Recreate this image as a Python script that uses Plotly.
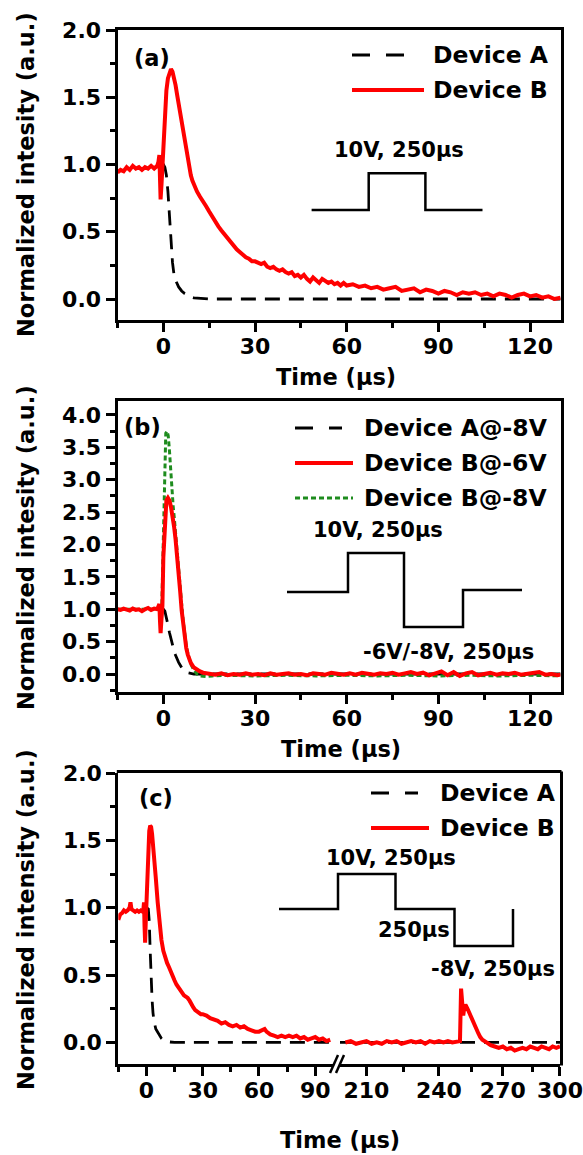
import math
import plotly.graph_objects as go

W, H = 583, 1155
FONT = "DejaVu Sans"

# ---------------- data ----------------
# Panel (a)
a_names = ["Device A", "Device B"]
a_A_time = [-0.5, 0, 0.5, 1, 1.5, 2, 2.5, 3, 3.5, 4, 5, 6, 7, 8, 9, 10, 12, 15, 130]
a_A_int = [1.0, 1.0, 0.98, 0.92, 0.80, 0.60, 0.40, 0.27, 0.18, 0.14, 0.09, 0.06, 0.04, 0.025,
           0.015, 0.008, 0.003, 0.0, 0.0]
a_B_time = [-15, -14, -13, -12, -11, -10, -9, -8, -7, -6, -5, -4, -3, -2,
            -1.6, -1.3, -1.1, -0.9, -0.6, -0.3,
            0, 0.5, 1, 1.5, 2, 2.5, 3, 3.5, 4, 4.5, 5, 5.5, 6, 6.5, 7, 7.5, 8, 8.5, 9, 9.5, 10,
            11, 12, 13, 14, 15, 16, 17, 18, 19, 20, 21, 22, 23, 24, 25, 26, 27, 28, 29, 30,
            31, 32, 33, 34, 35, 36, 37, 38, 39, 40, 41, 42, 43, 44, 45, 46, 47, 48, 49, 50,
            51, 52, 53, 54, 55, 56, 57, 58, 59, 60,
            62, 64, 66, 68, 70, 72, 74, 76, 78, 80, 82, 84, 86, 88, 90, 92, 94, 96, 98, 100,
            102, 104, 106, 108, 110, 112, 114, 116, 118, 120, 122, 124, 126, 128, 130]
a_B_int = [0.94, 0.96, 0.95, 0.98, 0.96, 0.99, 0.97, 0.98, 0.96, 0.98, 0.97, 0.99, 0.97, 0.99,
           1.02, 1.07, 0.90, 0.74, 0.85, 1.00,
           1.15, 1.38, 1.55, 1.64, 1.69, 1.71, 1.69, 1.65, 1.59, 1.52, 1.45, 1.38, 1.31, 1.24,
           1.17, 1.10, 1.03, 0.97, 0.92, 0.88, 0.85,
           0.80, 0.76, 0.73, 0.69, 0.65, 0.61, 0.58, 0.54, 0.51, 0.48,
           0.45, 0.43, 0.40, 0.37, 0.35, 0.33, 0.31, 0.30, 0.28, 0.28,
           0.27, 0.26, 0.27, 0.24, 0.23, 0.24, 0.22, 0.21, 0.22, 0.20,
           0.19, 0.20, 0.17, 0.18, 0.16, 0.18, 0.15, 0.13, 0.16, 0.14,
           0.12, 0.15, 0.13, 0.12, 0.13, 0.11, 0.12, 0.10, 0.12, 0.10,
           0.11, 0.09, 0.10, 0.08, 0.09, 0.07, 0.08, 0.09, 0.06, 0.07, 0.08, 0.05, 0.07, 0.06,
           0.04, 0.06, 0.05, 0.03, 0.05, 0.04, 0.05, 0.03, 0.04, 0.02, 0.04, 0.03, 0.01, 0.03,
           0.04, 0.02, 0.03, 0.01, 0.02, 0.00, 0.01]

# Panel (b)
b_names = ["Device A@-8V", "Device B@-6V", "Device B@-8V"]
b_A_time = [-0.5, 0, 0.5, 1, 1.5, 2, 2.5, 3, 3.5, 4, 5, 6, 7, 8, 9, 10, 130]
b_A_int = [1.0, 1.0, 0.97, 0.88, 0.76, 0.64, 0.53, 0.44, 0.36, 0.29, 0.18, 0.10, 0.05,
           0.02, 0.01, 0.0, 0.0]
b_B6_time = [-15, -14, -13, -12, -11, -10, -9, -8, -7, -6, -5, -4, -3, -2,
             -1.6, -1.3, -1.1, -0.9, -0.6, -0.3,
             0, 0.5, 1, 1.5, 2, 2.5, 3, 3.5, 4, 4.5, 5, 5.5, 6, 6.5, 7, 7.5, 8,
             9, 10, 11, 12, 13,
             15, 17, 19, 21, 23, 25, 27, 29, 31, 33, 35, 37, 39, 41, 43, 45, 47, 49, 51, 53,
             55, 57, 59, 61, 63, 65, 67, 69, 71, 73, 75, 77, 79, 81, 83, 85, 87, 89, 91, 93,
             95, 97, 99, 101, 103, 105, 107, 109, 111, 113, 115, 117, 119, 121, 123, 125, 127,
             129, 130]
b_B6_int = [1.00, 0.99, 1.01, 1.00, 0.98, 1.01, 0.99, 1.00, 0.97, 1.00, 1.02, 0.99, 1.01, 1.00,
            1.03, 1.08, 0.82, 0.63, 0.85, 1.05,
            1.80, 2.45, 2.68, 2.72, 2.68, 2.58, 2.45, 2.28, 2.08, 1.85, 1.58, 1.28, 0.98, 0.74,
            0.54, 0.40, 0.30,
            0.17, 0.10, 0.06, 0.04, 0.02,
            0.00, -0.01, 0.01, -0.02, 0.00, -0.01, 0.01, -0.01, 0.00, -0.02,
            0.01, -0.01, 0.00, 0.01, -0.01, 0.00, -0.02, 0.01, 0.00, -0.01,
            0.02, 0.00, -0.01, 0.01, -0.01, 0.02, 0.00, -0.01, 0.01, 0.00,
            0.02, -0.01, 0.01, 0.03, 0.00, 0.02, -0.02, 0.01, 0.04, -0.02,
            0.03, -0.03, 0.01, 0.03, -0.02, 0.00, 0.02, -0.01, 0.01, 0.00,
            0.02, -0.01, 0.00, 0.01, 0.03, -0.01, 0.00, -0.02, -0.01]
b_B8_time = [-15, -5, -1, -0.5, 0, 0.4, 0.8, 1.2, 1.6, 2.0, 2.4, 2.8, 3.2, 3.6, 4,
             4.5, 5, 5.5, 6, 6.5, 7, 7.5, 8, 9, 10, 11, 12, 14, 16, 20,
             30, 40, 50, 60, 70, 80, 90, 100, 110, 120, 130]
b_B8_int = [1.0, 1.0, 1.0, 1.05, 2.3, 3.3, 3.72, 3.75, 3.68, 3.45, 3.1, 2.8, 2.6, 2.4, 2.2,
            1.95, 1.68, 1.38, 1.08, 0.82, 0.60, 0.44, 0.32, 0.15, 0.06, 0.0, -0.03, -0.04,
            -0.03, -0.02,
            -0.03, -0.02, -0.03, -0.02, -0.03, -0.02, -0.03, -0.02, -0.03, -0.02, -0.03]

# Panel (c) -- broken time axis: early part (linear) and late part (log)
c_names = ["Device A", "Device B"]
c_A_time_early = [-0.5, 0, 1, 1.5, 2, 2.5, 3, 3.5, 4, 5, 6, 7, 8, 9, 10, 12, 15, 100]
c_A_int_early = [1.0, 1.0, 0.99, 0.90, 0.68, 0.47, 0.32, 0.22, 0.16, 0.10, 0.075, 0.05,
                 0.03, 0.017, 0.01, 0.004, 0.0, 0.0]
c_A_time_late = [200, 300]
c_A_int_late = [0.0, 0.0]
c_B_time_early = [-15, -14, -13, -12, -11, -10, -9, -8.5, -8, -7, -6, -5, -4, -3, -2,
                  -1.6, -1.3, -1.0, -0.7, -0.4,
                  0, 0.5, 1, 1.5, 2, 2.5, 3, 3.5, 4, 5, 6, 7, 8, 9, 10,
                  11, 12, 13, 14, 15, 16, 17, 18, 19, 20, 21, 22, 23, 24, 25, 26, 27, 28, 29, 30,
                  32, 34, 36, 38, 40, 42, 44, 46, 48, 50, 52, 54, 56, 58, 60, 62, 63, 64, 66, 68,
                  70, 72, 74, 76, 78, 80, 82, 84, 86, 88, 90, 92, 94, 96, 98]
c_B_int_early = [0.91, 0.95, 0.96, 0.98, 0.97, 0.98, 1.00, 1.04, 0.99, 0.98, 0.97, 0.98, 0.97,
                 0.98, 0.97,
                 0.99, 1.04, 0.86, 0.74, 0.88,
                 1.05, 1.30, 1.48, 1.57, 1.61, 1.60, 1.55, 1.48, 1.40, 1.22, 1.04, 0.88, 0.76,
                 0.68, 0.63,
                 0.59, 0.56, 0.52, 0.48, 0.46, 0.43, 0.41, 0.38, 0.36, 0.35,
                 0.34, 0.33, 0.31, 0.28, 0.26, 0.24, 0.23, 0.22, 0.21, 0.21,
                 0.20, 0.18, 0.17, 0.16, 0.14, 0.15, 0.13, 0.12, 0.13, 0.11, 0.12, 0.10, 0.09,
                 0.08, 0.08, 0.09, 0.10, 0.08, 0.06, 0.05,
                 0.04, 0.05, 0.04, 0.05, 0.04, 0.05, 0.03, 0.04, 0.02, 0.03, 0.04, 0.02, 0.03,
                 0.01, 0.02]
c_B_time_late = [202, 204, 206, 208, 210, 212, 214, 216, 218, 220, 222, 224, 226, 228, 230,
                 232, 234, 236, 238, 240, 242, 244, 246, 248, 249.5, 250, 250.5, 251, 251.5,
                 252, 253, 254, 255, 256, 257, 258, 259, 260, 262, 264, 266, 268, 270, 272,
                 274, 276, 278, 280, 282, 284, 286, 288, 290, 292, 294, 296, 298, 300]
c_B_int_late = [0.00, 0.01, -0.01, 0.00, 0.01, -0.01, 0.00, -0.01, 0.01, 0.00, 0.01, -0.01,
                0.00, 0.01, 0.00, 0.01, -0.01, 0.01, 0.00, 0.01, 0.00, 0.01, 0.00, 0.01, 0.01,
                0.40, 0.22, 0.20, 0.26, 0.28, 0.25, 0.21, 0.17, 0.13, 0.10, 0.07, 0.04, 0.02,
                0.00, -0.02, -0.03, -0.04, -0.03, -0.05, -0.04, -0.06, -0.05, -0.04, -0.05,
                -0.03, -0.04, -0.05, -0.03, -0.04, -0.05, -0.03, -0.04, -0.03]

time_ticks = [0, 30, 60, 90, 120]
late_ticks = [210, 240, 270, 300]
late_minor_ticks = [225, 255, 285]

# ---------------- styles ----------------
RED = dict(color="#ff0000", width=4)
BLK = dict(color="black", width=2.8, dash="15px,9px")
GRN = dict(color="#1e8c1e", width=3, dash="5px,3px")


def X(px):
    return px / W


def Y(py):
    return 1 - py / H


XA = [X(117.5), X(560.6)]
YA = [Y(320), Y(30)]
YB = [Y(692), Y(401)]
YC = [Y(1064), Y(773)]
XC1 = [X(118.3), X(334)]
XC2 = [X(340), X(560)]

tickfont = dict(family=FONT, size=22, color="black", weight="bold")


def xaxis(domain, rng, anchor, mirror=True, **kw):
    d = dict(domain=domain, range=rng, anchor=anchor, showline=True, linecolor="black",
             linewidth=3, mirror=mirror, ticks="outside", ticklen=9, tickwidth=3,
             tickcolor="black", showgrid=False, zeroline=False, tickfont=tickfont,
             automargin=False, ticklabelstandoff=-4)
    d.update(kw)
    return d


def yaxis(domain, rng, anchor, mirror=True):
    return dict(domain=domain, range=rng, anchor=anchor, showline=True, linecolor="black",
                linewidth=3, mirror=mirror, ticks="outside", ticklen=9, tickwidth=3,
                tickcolor="black", showgrid=False, zeroline=False, tickfont=tickfont,
                automargin=False, tickmode="linear", tick0=0, dtick=0.5, tickformat=".1f",
                ticklabelstandoff=0,
                minor=dict(ticks="outside", ticklen=5, tickwidth=3, tickcolor="black",
                           dtick=0.25, tick0=0))


lin_x = dict(tickmode="array", tickvals=time_ticks,
             minor=dict(ticks="outside", ticklen=5, tickwidth=3, tickcolor="black",
                        tickmode="linear", dtick=15, tick0=0))

fig = go.Figure()
# (a)
fig.add_trace(go.Scatter(x=a_A_time, y=a_A_int, name=a_names[0], mode="lines", line=BLK,
                         xaxis="x", yaxis="y"))
fig.add_trace(go.Scatter(x=a_B_time, y=a_B_int, name=a_names[1], mode="lines", line=RED,
                         xaxis="x", yaxis="y"))
# (b)
fig.add_trace(go.Scatter(x=b_A_time, y=b_A_int, name=b_names[0], mode="lines", line=BLK,
                         xaxis="x2", yaxis="y2"))
fig.add_trace(go.Scatter(x=b_B8_time, y=b_B8_int, name=b_names[2], mode="lines", line=GRN,
                         xaxis="x2", yaxis="y2"))
fig.add_trace(go.Scatter(x=b_B6_time, y=b_B6_int, name=b_names[1], mode="lines", line=RED,
                         xaxis="x2", yaxis="y2"))
# (c)
fig.add_trace(go.Scatter(x=c_A_time_early, y=c_A_int_early, name=c_names[0], mode="lines",
                         line=BLK, xaxis="x3", yaxis="y3"))
fig.add_trace(go.Scatter(x=c_A_time_late, y=c_A_int_late, name=c_names[0], mode="lines",
                         line=BLK, xaxis="x4", yaxis="y3"))
fig.add_trace(go.Scatter(x=c_B_time_early, y=c_B_int_early, name=c_names[1], mode="lines",
                         line=RED, xaxis="x3", yaxis="y3"))
fig.add_trace(go.Scatter(x=c_B_time_late, y=c_B_int_late, name=c_names[1], mode="lines",
                         line=RED, xaxis="x4", yaxis="y3"))

shapes = []
annotations = []


def text(t, px, py, size=22, xanchor="center", angle=0):
    annotations.append(dict(text=t, x=X(px), y=Y(py), xref="paper", yref="paper",
                            showarrow=False, xanchor=xanchor, yanchor="middle",
                            textangle=angle,
                            font=dict(family=FONT, size=size, color="black", weight="bold")))


def seg(px0, py0, px1, py1, line):
    shapes.append(dict(type="line", xref="paper", yref="paper", x0=X(px0), y0=Y(py0),
                       x1=X(px1), y1=Y(py1), line=line))


def path(points, width=2.5):
    d = "M " + " L ".join(f"{X(p[0]):.5f},{Y(p[1]):.5f}" for p in points)
    shapes.append(dict(type="path", xref="paper", yref="paper", path=d,
                       line=dict(color="black", width=width)))


LEG_BLK = dict(color="black", width=3, dash="18px,16px")
LEG_RED = dict(color="#ff0000", width=4)
LEG_GRN = dict(color="#1e8c1e", width=3, dash="5px,3px")

# legends
for name, ln, x0, x1, y in [(a_names[0], LEG_BLK, 352, 407, 55),
                            (a_names[1], LEG_RED, 352, 424, 90)]:
    seg(x0, y, x1, y, ln)
    text(name, 431, y, 23.5, "left")
for name, ln, x0, x1, y in [(b_names[0], LEG_BLK, 295, 342, 428),
                            (b_names[1], LEG_RED, 295, 353, 463),
                            (b_names[2], LEG_GRN, 295, 353, 498)]:
    seg(x0, y, x1, y, ln)
    text(name, 362, y, 23.5, "left")
for name, ln, x0, x1, y in [(c_names[0], LEG_BLK, 371, 418, 793),
                            (c_names[1], LEG_RED, 371, 429, 828)]:
    seg(x0, y, x1, y, ln)
    text(name, 438, y, 23.5, "left")

# panel labels
text("(a)", 152, 58, 22.5)
text("(b)", 142, 427, 22.5)
text("(c)", 156, 798, 22.5)

# axis titles
text("Normalized intesity (a.u.)", 26, 175, 22.5, angle=-90)
text("Normalized intesity (a.u.)", 26, 548, 22.5, angle=-90)
text("Normalized intensity (a.u.)", 26, 920, 22.5, angle=-90)
text("Time (\u03bcs)", 336, 377, 22.5)
text("Time (\u03bcs)", 341, 749, 22.5)
text("Time (\u03bcs)", 340, 1140, 22.5)

# inset pulse schematics
path([(311.6, 210), (368.7, 210), (368.7, 173.3), (425.4, 173.3), (425.4, 210), (482.5, 210)])
text("10V, 250\u03bcs", 399, 150, 21)
path([(287, 592), (348, 592), (348, 553), (404, 553), (404, 627), (463, 627), (463, 590),
      (522, 590)])
text("10V, 250\u03bcs", 377.5, 530, 21)
text("-6V/-8V, 250\u03bcs", 448, 652, 21)
path([(279, 909), (338, 909), (338, 874), (395.5, 874), (395.5, 909), (454.5, 909),
      (454.5, 946), (513, 946), (513, 909)])
text("10V, 250\u03bcs", 390.5, 858, 21)
text("250\u03bcs", 414, 930, 21)
text("-8V, 250\u03bcs", 492.5, 969, 21)

# panel (c) frame: top and right borders, axis break marks
seg(116.8, 771.5, 561.5, 771.5, dict(color="black", width=3))
seg(561.5, 771.5, 561.5, 1065.5, dict(color="black", width=3))
seg(330, 1073, 338, 1055, dict(color="black", width=2.5))
seg(336, 1073, 344, 1055, dict(color="black", width=2.5))

fig.update_layout(
    width=W, height=H, template="none",
    paper_bgcolor="white", plot_bgcolor="rgba(0,0,0,0)",
    margin=dict(l=0, r=0, t=0, b=0),
    showlegend=False,
    font=dict(family=FONT, color="black"),
    xaxis=xaxis(XA, [-15, 130], "y", **lin_x),
    yaxis=yaxis(YA, [-0.156, 2.0], "x"),
    xaxis2=xaxis(XA, [-15, 130], "y2", **lin_x),
    yaxis2=yaxis(YB, [-0.278, 4.216], "x2"),
    xaxis3=xaxis(XC1, [-15, 100], "y3", mirror=False, **lin_x),
    xaxis4=xaxis(XC2, [math.log10(200), math.log10(300) + 1e-5], "y3", mirror=False,
                 type="log", tickmode="array", tickvals=late_ticks,
                 ticktext=[str(v) for v in late_ticks],
                 minor=dict(ticks="outside", ticklen=5, tickwidth=3, tickcolor="black",
                            tickmode="array", tickvals=late_minor_ticks)),
    yaxis3=yaxis(YC, [-0.16, 2.0], "x3", mirror=False),
    shapes=shapes,
    annotations=annotations,
)

fig.write_html("out.html", config={"displayModeBar": False},
               post_script="document.body.style.margin='0';document.body.style.padding='0';")
